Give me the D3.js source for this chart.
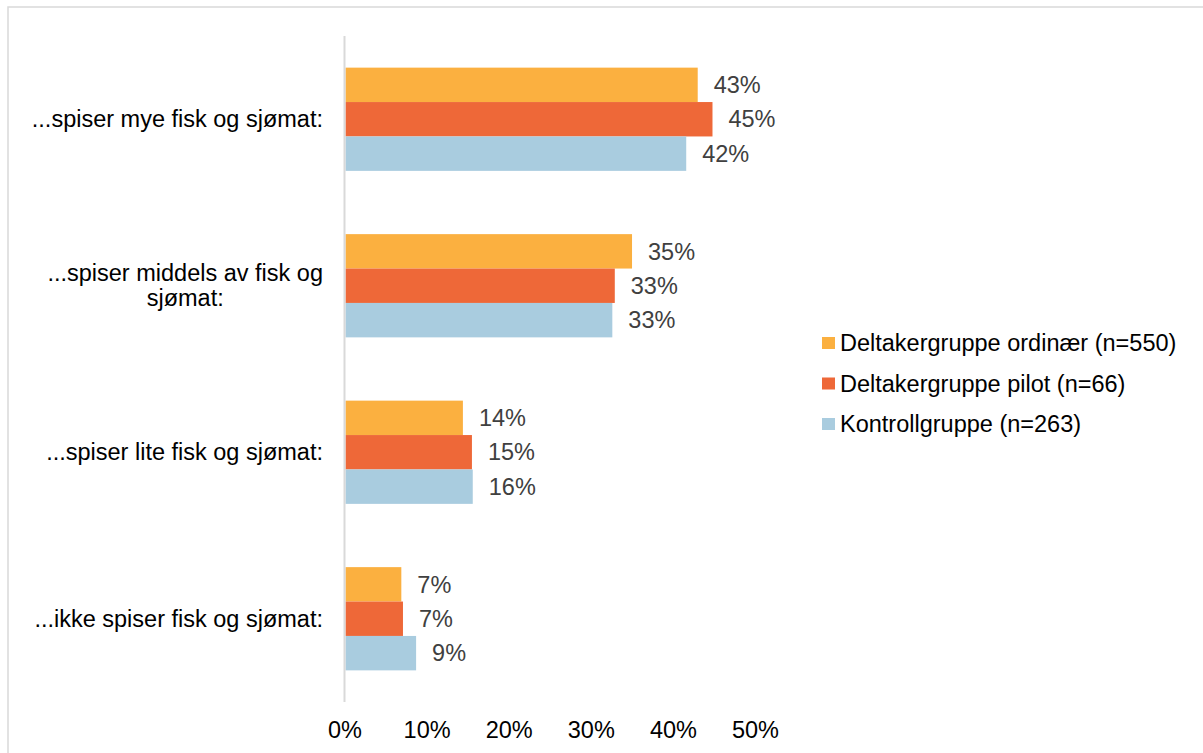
<!DOCTYPE html>
<html>
<head>
<meta charset="utf-8">
<script src="https://cdn.jsdelivr.net/npm/d3@7"></script>
<style>
  body { margin: 0; background: #fff; }
  svg { display: block; font-family: "Liberation Sans", Arial, sans-serif; }
</style>
</head>
<body>
<svg id="chart"></svg>
<script>
// categories (top to bottom), wrapped lines per label
let categories = [
  ["...spiser mye fisk og sjømat:"],
  ["...spiser middels av fisk og", "sjømat:"],
  ["...spiser lite fisk og sjømat:"],
  ["...ikke spiser fisk og sjømat:"]
];
let seriesNames = ["Deltakergruppe ordinær (n=550)", "Deltakergruppe pilot (n=66)", "Kontrollgruppe (n=263)"];
let seriesColors = ["#fbb040", "#ee6838", "#a9ccdf"];
// percent values per category
let ordinaer = [42.9, 34.9, 14.3, 6.8];
let pilot = [44.7, 32.8, 15.4, 7.0];
let kontroll = [41.5, 32.5, 15.5, 8.6];
let xTicks = [0, 10, 20, 30, 40, 50];

let valuesByCat = categories.map((c, i) => [ordinaer[i], pilot[i], kontroll[i]]);

let width = 1203, height = 753,
    svg = d3.select("#chart").attr("width", width).attr("height", height),
    fontSize = 23.5;

// outer frame (cut off by the picture on right and bottom)
svg.append("rect")
   .attr("x", 8).attr("y", 7)
   .attr("width", 1210).attr("height", 760)
   .attr("fill", "none")
   .attr("stroke", "#d9d9d9")
   .attr("stroke-width", 1.5);

let xScale = d3.scaleLinear().domain([0, 50]).range([345.5, 756]),
    yScale = d3.scaleBand().domain(d3.range(categories.length)).range([36, 702])
               .paddingInner(0.38).paddingOuter(0.19),
    ySub = d3.scaleBand().domain(d3.range(seriesNames.length)).range([0, yScale.bandwidth()]);

let groups = svg.selectAll(".grp")
    .data(valuesByCat)
    .enter()
    .append("g")
    .classed("grp", true)
    .attr("transform", (d, i) => `translate(0,${yScale(i)})`);

groups.selectAll("rect")
    .data(d => d)
    .enter()
    .append("rect")
    .attr("x", xScale(0))
    .attr("y", (d, j) => ySub(j))
    .attr("width", d => xScale(d) - xScale(0))
    .attr("height", ySub.bandwidth())
    .attr("fill", (d, j) => seriesColors[j]);

groups.selectAll("text")
    .data(d => d)
    .enter()
    .append("text")
    .text(d => Math.round(d) + "%")
    .attr("x", d => xScale(d) + 16)
    .attr("y", (d, j) => ySub(j) + ySub.bandwidth() / 2)
    .attr("dy", "0.35em")
    .attr("font-size", fontSize)
    .attr("fill", "#404040");

// vertical axis line
svg.append("line")
   .attr("x1", xScale(0) - 1).attr("x2", xScale(0) - 1)
   .attr("y1", 36).attr("y2", 702)
   .attr("stroke", "#d9d9d9")
   .attr("stroke-width", 2);

// category labels: block right-aligned at x=323, lines centered within block
let catG = svg.selectAll(".cat")
    .data(categories)
    .enter()
    .append("g")
    .classed("cat", true);

catG.each(function(lines, i) {
  let g = d3.select(this),
      cy = yScale(i) + yScale.bandwidth() / 2,
      lh = 25,
      texts = g.selectAll("text").data(lines).enter().append("text")
               .text(d => d)
               .attr("font-size", fontSize)
               .attr("fill", "#000")
               .attr("dy", "0.35em")
               .attr("y", (d, k) => cy + (k - (lines.length - 1) / 2) * lh);
  let maxW = d3.max(texts.nodes(), n => n.getComputedTextLength());
  texts.attr("text-anchor", "middle").attr("x", 323 - maxW / 2);
});

// x tick labels
svg.selectAll(".tick")
   .data(xTicks)
   .enter()
   .append("text")
   .classed("tick", true)
   .text(d => d + "%")
   .attr("x", d => xScale(d) - 0.5)
   .attr("y", 730)
   .attr("dy", "0.35em")
   .attr("text-anchor", "middle")
   .attr("font-size", fontSize)
   .attr("fill", "#000");

// legend
let legend = svg.selectAll(".leg")
    .data(seriesNames)
    .enter()
    .append("g")
    .classed("leg", true)
    .attr("transform", (d, i) => `translate(822,${343 + i * 40.5})`);

legend.append("rect")
    .attr("x", 0).attr("y", -6)
    .attr("width", 13).attr("height", 12)
    .attr("fill", (d, i) => seriesColors[i]);

legend.append("text")
    .text(d => d)
    .attr("x", 18)
    .attr("dy", "0.35em")
    .attr("font-size", fontSize)
    .attr("fill", "#000");
</script>
</body>
</html>
